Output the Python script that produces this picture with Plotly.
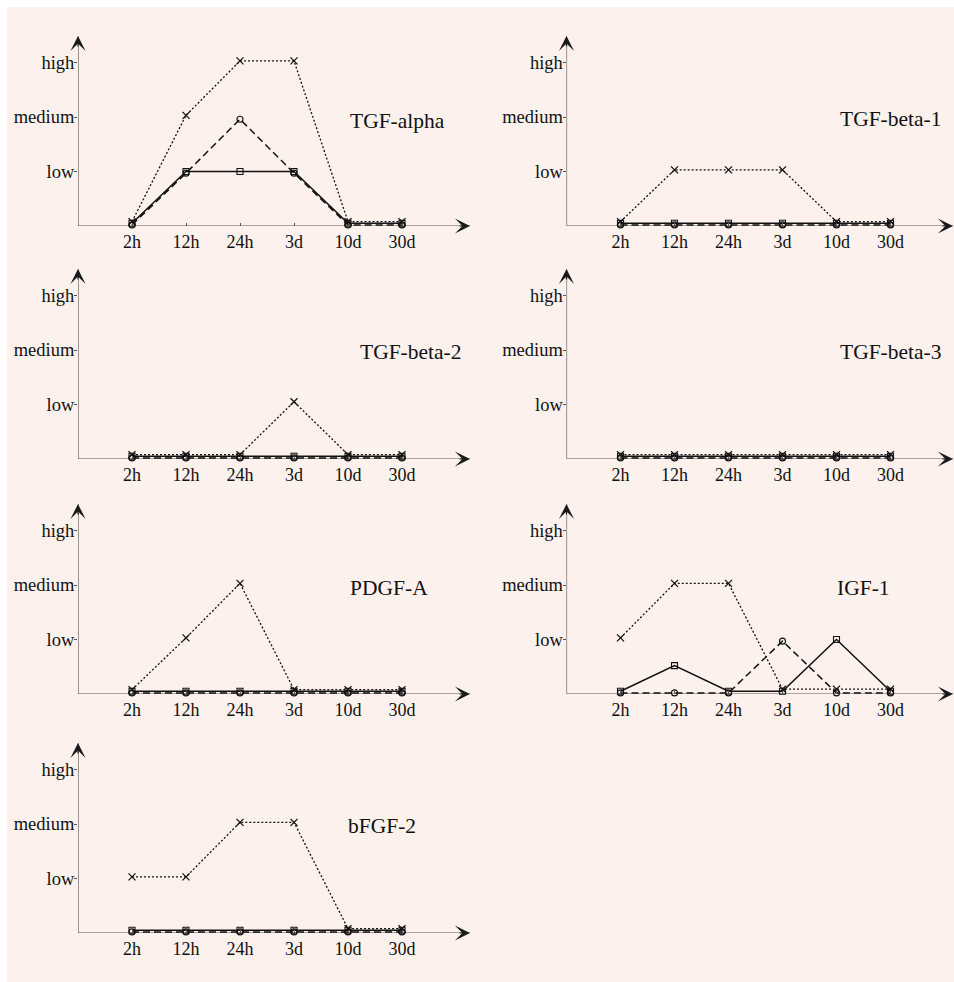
import plotly.graph_objects as go

# ---------------- data ----------------
times = ["2h", "12h", "24h", "3d", "10d", "30d"]
level_labels = ["low", "medium", "high"]
level_values = [1, 2, 3]

panels = ["TGF-alpha", "TGF-beta-1", "TGF-beta-2", "TGF-beta-3", "PDGF-A", "IGF-1", "bFGF-2"]

# solid line, square markers
solid = {
    "TGF-alpha":  [0.05, 1.0, 1.0, 1.0, 0.05, 0.05],
    "TGF-beta-1": [0.05, 0.05, 0.05, 0.05, 0.05, 0.05],
    "TGF-beta-2": [0.05, 0.05, 0.05, 0.05, 0.05, 0.05],
    "TGF-beta-3": [0.05, 0.05, 0.05, 0.05, 0.05, 0.05],
    "PDGF-A":     [0.05, 0.05, 0.05, 0.05, 0.05, 0.05],
    "IGF-1":      [0.05, 0.52, 0.05, 0.05, 1.0, 0.05],
    "bFGF-2":     [0.05, 0.05, 0.05, 0.05, 0.05, 0.05],
}
# dashed line, circle markers
dashed = {
    "TGF-alpha":  [0.02, 0.97, 1.96, 0.97, 0.02, 0.02],
    "TGF-beta-1": [0.02, 0.02, 0.02, 0.02, 0.02, 0.02],
    "TGF-beta-2": [0.02, 0.02, 0.02, 0.02, 0.02, 0.02],
    "TGF-beta-3": [0.02, 0.02, 0.02, 0.02, 0.02, 0.02],
    "PDGF-A":     [0.02, 0.02, 0.02, 0.02, 0.02, 0.02],
    "IGF-1":      [0.02, 0.02, 0.02, 0.97, 0.02, 0.02],
    "bFGF-2":     [0.02, 0.02, 0.02, 0.02, 0.02, 0.02],
}
# dotted line, x markers
dotted = {
    "TGF-alpha":  [0.08, 2.03, 3.03, 3.03, 0.08, 0.08],
    "TGF-beta-1": [0.08, 1.03, 1.03, 1.03, 0.08, 0.08],
    "TGF-beta-2": [0.08, 0.08, 0.08, 1.05, 0.08, 0.08],
    "TGF-beta-3": [0.08, 0.08, 0.08, 0.08, 0.08, 0.08],
    "PDGF-A":     [0.08, 1.03, 2.03, 0.08, 0.08, 0.08],
    "IGF-1":      [1.03, 2.03, 2.03, 0.09, 0.09, 0.09],
    "bFGF-2":     [1.03, 1.03, 2.03, 2.03, 0.08, 0.08],
}

# ---------------- layout geometry (pixels) ----------------
W, H = 954, 982
col_axis_px = [78, 566.5]          # x pixel of the y-axis line
row_axis_px = [226, 459, 694, 933]  # y pixel of the x-axis line
x_unit = 54.0                       # px per category step
y_unit = 54.5                       # px per level
x_len = 392                         # length of x axis arrow (px)
y_len = 190                         # length of y axis arrow (px)
panel_pos = [(0, 0), (0, 1), (1, 0), (1, 1), (2, 0), (2, 1), (3, 0)]
label_pos = {  # (x in category units, y in level units), left-anchored
    "TGF-alpha": (4.0, 1.92), "TGF-beta-1": (4.02, 1.96), "TGF-beta-2": (4.19, 1.96),
    "TGF-beta-3": (4.02, 1.96), "PDGF-A": (4.0, 1.94), "IGF-1": (3.98, 1.94),
    "bFGF-2": (3.97, 1.96),
}

serif = "Liberation Serif, Times New Roman, serif"
ink = "#111111"
axis_col = "#5a5452"

fig = go.Figure()
annotations = []
shapes = [dict(type="rect", xref="paper", yref="paper", x0=7 / W, x1=1, y0=0, y1=1 - 7 / H,
               fillcolor="#fcf1ec", line=dict(width=0), layer="below")]

for i, name in enumerate(panels):
    r, c = panel_pos[i]
    k = "" if i == 0 else str(i + 1)
    xa, ya = "x" + k, "y" + k
    x0px = col_axis_px[c]
    x1px = min(x0px + x_len, W - 1)
    xmax = -1 + (x1px - x0px) / x_unit
    ybot = row_axis_px[r]
    ytop = ybot - y_len
    ymax = y_len / y_unit

    fig.update_layout(**{
        "xaxis" + k: dict(domain=[x0px / W, x1px / W], range=[-1, xmax],
                          tickvals=list(range(len(times))), ticktext=times,
                          ticks="inside", ticklen=3, tickcolor=axis_col,
                          showgrid=False, zeroline=False, showline=False,
                          tickfont=dict(family=serif, size=18, color=ink),
                          ticklabelstandoff=3, anchor=ya, fixedrange=True),
        "yaxis" + k: dict(domain=[(H - ybot) / H, (H - ytop) / H], range=[0, ymax],
                          tickvals=level_values, ticktext=level_labels,
                          ticks="outside", ticklen=3, tickcolor=axis_col,
                          showgrid=False, zeroline=False, showline=False,
                          tickfont=dict(family=serif, size=18.5, color=ink),
                          ticklabelstandoff=-4, anchor=xa, fixedrange=True),
    })

    common = dict(x=list(range(len(times))), xaxis=xa, yaxis=ya, mode="lines+markers",
                  cliponaxis=False, showlegend=False, hoverinfo="skip")
    fig.add_trace(go.Scatter(y=dotted[name], name="dotted", **common,
                             line=dict(color=ink, width=1.3, dash="2px,2px"),
                             marker=dict(symbol="x-thin-open", size=7, color=ink,
                                         line=dict(width=1.3, color=ink))))
    fig.add_trace(go.Scatter(y=dashed[name], name="dashed", **common,
                             line=dict(color=ink, width=1.5, dash="7px,4px"),
                             marker=dict(symbol="circle-open", size=6, color=ink,
                                         line=dict(width=1.1, color=ink))))
    fig.add_trace(go.Scatter(y=solid[name], name="solid", **common,
                             line=dict(color=ink, width=1.5),
                             marker=dict(symbol="square-open", size=6, color=ink,
                                         line=dict(width=1.1, color=ink))))

    # axis lines (gray) + black arrowheads
    shapes.append(dict(type="line", xref=xa, yref=ya, x0=-1, y0=0, x1=xmax, y1=0,
                       line=dict(color=axis_col, width=1.2), layer="below"))
    shapes.append(dict(type="line", xref=xa, yref=ya, x0=-1, y0=0, x1=-1, y1=ymax,
                       line=dict(color=axis_col, width=1.2), layer="below"))
    annotations.append(dict(x=xmax, y=0, ax=-12, ay=0, xref=xa, yref=ya,
                            text="", showarrow=True, arrowhead=3, arrowsize=2.1,
                            arrowwidth=1.2, arrowcolor="#1a1a1a"))
    annotations.append(dict(x=-1, y=ymax, ax=0, ay=12, xref=xa, yref=ya,
                            text="", showarrow=True, arrowhead=3, arrowsize=2.1,
                            arrowwidth=1.2, arrowcolor="#1a1a1a"))
    lx, ly = label_pos[name]
    annotations.append(dict(x=lx, y=ly, xref=xa, yref=ya, text=name, showarrow=False,
                            xanchor="left", yanchor="middle",
                            font=dict(family=serif, size=21.5, color=ink)))

fig.update_layout(
    width=W, height=H, margin=dict(l=0, r=0, t=0, b=0),
    paper_bgcolor="white", plot_bgcolor="rgba(0,0,0,0)",
    annotations=annotations, shapes=shapes,
)

fig.write_html("out.html", config={"displayModeBar": False},
               post_script="document.body.style.margin='0';document.body.style.overflow='hidden';")
